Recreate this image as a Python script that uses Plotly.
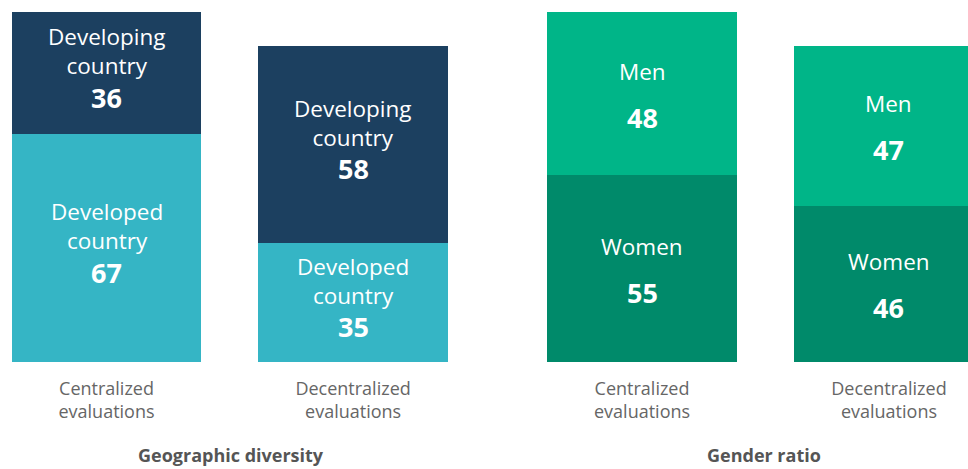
import plotly.graph_objects as go
from plotly.subplots import make_subplots

# ---- data ----
categories = ["Centralized<br>evaluations", "Decentralized<br>evaluations"]
group_titles = ["Geographic diversity", "Gender ratio"]

geo_bottom_name = "Developed<br>country"
geo_bottom = [67, 35]
geo_top_name = "Developing<br>country"
geo_top = [36, 58]

gen_bottom_name = "Women"
gen_bottom = [55, 46]
gen_top_name = "Men"
gen_top = [48, 47]

NAVY = "#1c4060"
TEAL = "#35b5c5"
GREEN = "#00b588"
DKGREEN = "#008a6a"
FONT = "Open Sans"

fig = make_subplots(rows=1, cols=2, horizontal_spacing=0)


def add(col, name, vals, base, color):
    fig.add_trace(go.Bar(
        x=categories, y=vals, marker=dict(color=color, line=dict(width=0)),
        width=0.77, hoverinfo="skip", showlegend=False), row=1, col=col)
    xref = "x" if col == 1 else "x2"
    yref = "y" if col == 1 else "y2"
    for cat, v, b in zip(categories, vals, base):
        mid = b + v / 2
        fig.add_annotation(x=cat, y=mid, xref=xref, yref=yref, text=name,
                           showarrow=False, yshift=22, yanchor="middle",
                           font=dict(family=FONT, size=22.5, color="white"))
        fig.add_annotation(x=cat, y=mid, xref=xref, yref=yref, text=f"<b>{v}</b>",
                           showarrow=False, yshift=-24, yanchor="middle",
                           font=dict(family=FONT, size=27, color="white"))


add(1, geo_bottom_name, geo_bottom, [0, 0], TEAL)
add(1, geo_top_name, geo_top, geo_bottom, NAVY)
add(2, gen_bottom_name, gen_bottom, [0, 0], DKGREEN)
add(2, gen_top_name, gen_top, gen_bottom, GREEN)

fig.update_layout(
    barmode="stack", width=968, height=469,
    margin=dict(l=0, r=0, t=12, b=107),
    paper_bgcolor="white", plot_bgcolor="white",
    font=dict(family=FONT),
)
fig.update_xaxes(type="category", showgrid=False, zeroline=False, showline=False,
                 ticks="", ticklabelstandoff=14,
                 tickfont=dict(family=FONT, size=18, color="#666666"))
fig.update_xaxes(domain=[0, 0.5], range=[-0.432, 1.531], row=1, col=1)
fig.update_xaxes(domain=[0.5, 1], range=[-0.640, 1.320], row=1, col=2)
fig.update_yaxes(range=[0, 103], visible=False, showgrid=False)

fig.add_annotation(text=f"<b>{group_titles[0]}</b>", x=231 / 968, y=-0.266,
                   xref="paper", yref="paper", showarrow=False,
                   xanchor="center", yanchor="middle",
                   font=dict(family=FONT, size=18, color="#555555"))
fig.add_annotation(text=f"<b>{group_titles[1]}</b>", x=763.5 / 968, y=-0.266,
                   xref="paper", yref="paper", showarrow=False,
                   xanchor="center", yanchor="middle",
                   font=dict(family=FONT, size=18, color="#555555"))

fig.write_html("out.html", config={"displayModeBar": False},
               post_script="document.body.style.margin='0';document.body.style.overflow='hidden';")
